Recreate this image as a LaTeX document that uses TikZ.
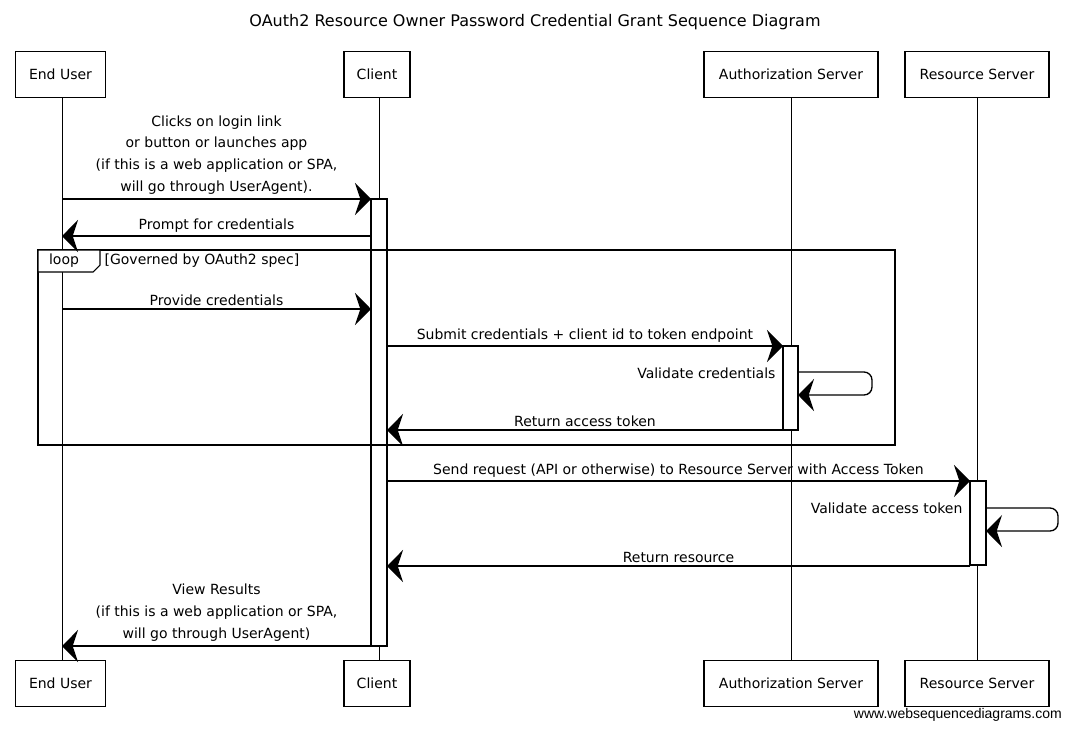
\documentclass[tikz,border=0pt]{standalone}
\usepackage{fontspec}
\setmainfont{DejaVu Sans}
\newfontfamily\wsdfont{Liberation Sans}
\usetikzlibrary{arrows.meta}
\tikzset{
  party/.style={shape=rectangle, draw=black, line width=0.8pt, minimum height=34pt, inner sep=2pt, font=\fontsize{10.5}{12}\selectfont},
  life/.style={draw=black, line width=0.6pt},
  msg/.style={draw=black, line width=1pt, -{Stealth[length=12pt, width=24pt, inset=4pt]}},
  lbl/.style={font=\fontsize{10.5}{16.3}\selectfont, align=center, inner sep=1pt},
  actbox/.style={draw=black, line width=0.8pt, fill=white},
}
\begin{document}
\begin{tikzpicture}[x=0.75pt, y=-0.75pt]
    \useasboundingbox (0,0) rectangle (1069,729);
    \node[font=\fontsize{12}{14}\selectfont] at (535,22) (title) {OAuth2 Resource Owner Password Credential Grant Sequence Diagram};
    \node[party, minimum width=68pt] at (60.5,74.5) (EU) {End User};
    \node[party, minimum width=49.5pt] at (377,74.5) (CL) {Client};
    \node[party, minimum width=130.5pt] at (791,74.5) (AS) {Authorization Server};
    \node[party, minimum width=108pt] at (977,74.5) (RS) {Resource Server};
    \node[party, minimum width=68pt] at (60.5,683.5) (EUb) {End User};
    \node[party, minimum width=49.5pt] at (377,683.5) (CLb) {Client};
    \node[party, minimum width=130.5pt] at (791,683.5) (ASb) {Authorization Server};
    \node[party, minimum width=108pt] at (977,683.5) (RSb) {Resource Server};
    \path[life] (62,97) -- (62,661);
    \path[life] (379,97) -- (379,661);
    \path[life] (791,97) -- (791,661);
    \path[life] (977,97) -- (977,661);
    \path[actbox] (371,199) rectangle (387,646);
    \path[actbox] (783,346) rectangle (798,430);
    \path[actbox] (970,481) rectangle (986,565);
    \draw[line width=0.8pt] (38,250) rectangle (895,445);
    \draw[line width=0.8pt, fill=white] (38,250) -- (100,250) -- (100,265) -- (93,272) -- (38,272) -- cycle;
    \node[lbl] at (64,261) (loop) {loop};
    \node[lbl, anchor=west] at (103,261) (guard) {[Governed by OAuth2 spec]};
    \coordinate (u1) at (62,199);   \coordinate (c1) at (371,199);
    \coordinate (c2) at (371,236);  \coordinate (u2) at (62,236);
    \coordinate (u3) at (62,309);   \coordinate (c3) at (371,309);
    \coordinate (c4) at (387,346);  \coordinate (a4) at (783,346);
    \coordinate (a5) at (798,372);  \coordinate (a5e) at (798,395);
    \coordinate (a6) at (783,430);  \coordinate (c6) at (387,430);
    \coordinate (c7) at (387,481);  \coordinate (r7) at (970,481);
    \coordinate (r8) at (986,508);  \coordinate (r8e) at (986,531);
    \coordinate (r9) at (970,566);  \coordinate (c9) at (387,566);
    \coordinate (c10) at (371,646); \coordinate (u10) at (62,646);
    \path[msg] (u1) -- node[lbl, above=2pt] {Clicks on login link\\or button or launches app\\(if this is a web application or SPA,\\will go through UserAgent).} (c1);
    \path[msg] (c2) -- node[lbl, above=1pt] {Prompt for credentials} (u2);
    \path[msg] (u3) -- node[lbl, above=1pt] {Provide credentials} (c3);
    \path[msg] (c4) -- node[lbl, above=1pt] {Submit credentials + client id to token endpoint} (a4);
    \path[msg, rounded corners=6pt] (a5) -- (872,372) -- (872,395) -- (a5e);
    \node[lbl, anchor=east] at (777,373) (val1) {Validate credentials};
    \path[msg] (a6) -- node[lbl, above=1pt] {Return access token} (c6);
    \path[msg] (c7) -- node[lbl, above=1pt] {Send request (API or otherwise) to Resource Server with Access Token} (r7);
    \path[msg, rounded corners=6pt] (r8) -- (1058,508) -- (1058,531) -- (r8e);
    \node[lbl, anchor=east] at (964,508) (val2) {Validate access token};
    \path[msg] (r9) -- node[lbl, above=1pt] {Return resource} (c9);
    \path[msg] (c10) -- node[lbl, above=2pt] {View Results\\(if this is a web application or SPA,\\will go through UserAgent)} (u10);
    \node[anchor=east, font=\wsdfont\fontsize{10.5}{12}\selectfont, inner sep=0pt] at (1062,715) (wsd) {www.websequencediagrams.com};
\end{tikzpicture}
\end{document}
